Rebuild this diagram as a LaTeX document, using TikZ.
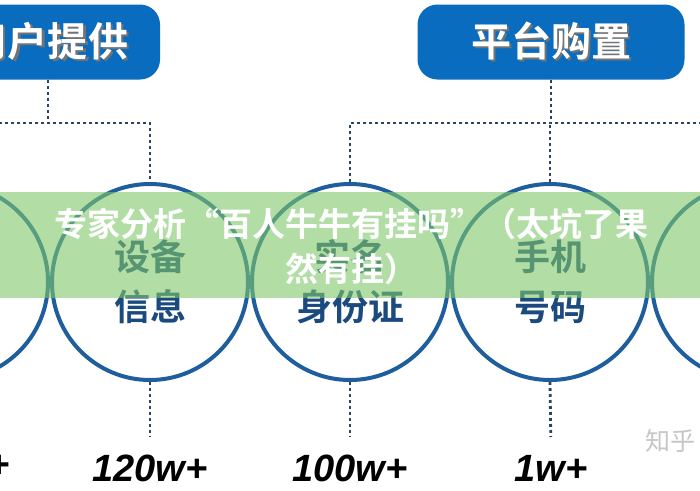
\documentclass[tikz,border=0pt]{standalone}
\usepackage{fontspec}
\usetikzlibrary{positioning}
\newfontfamily\cjk{Noto Sans CJK SC}[BoldFont={Noto Sans CJK SC Bold}]
\newfontfamily\numfont{Liberation Sans}
\definecolor{fblue}{HTML}{0A6CBE}
\definecolor{fring}{HTML}{1F5E9C}
\definecolor{fnavy}{HTML}{1B4A7E}
\definecolor{fdot}{HTML}{2A4560}
\definecolor{fband}{RGB}{127,200,107}
\newcommand{\shtext}[1]{{\color{black!55}\rlap{\kern2pt\raisebox{-2pt}{#1}}}#1}

\begin{document}
\begin{tikzpicture}[x=1pt, y=-1pt,
  topbox/.style={fill=fblue, text=white, rounded corners=20pt, minimum height=75pt,
    inner sep=0pt, font=\cjk\bfseries\fontsize{40}{40}\selectfont},
  ring/.style={circle, draw=fring, line width=4pt, minimum size=196pt, inner sep=0pt,
    text=fnavy, align=center, font=\cjk\bfseries\fontsize{36}{50}\selectfont},
  dotline/.style={fdot, line width=2.8pt, dash pattern=on 2.8pt off 3.2pt},
  val/.style={font=\numfont\bfseries\itshape\fontsize{38}{38}\selectfont, inner sep=0pt, anchor=north}]
\useasboundingbox (0,0) rectangle (700,490);
\clip (0,0) rectangle (700,490);
\fill[white] (0,0) rectangle (700,490);
% ---------- top: the two sources ----------
\node[topbox, minimum width=224pt] (user) at (48,42) {\shtext{用户提供}};
\node[topbox, minimum width=267pt] (plat) at (551,42) {\shtext{平台购置}};
% ---------- middle: the five kinds of data ----------
\node[ring] (c1) at (-50,282) {};
\node[ring] (c2) at (150,282) {设备\\信息};
\node[ring] (c3) at (350,282) {实名\\身份证};
\node[ring] (c4) at (550,282) {手机\\号码};
\node[ring] (c5) at (750,282) {};
% ---------- dotted wiring ----------
\coordinate (lbus) at (48,123);
\coordinate (rbus) at (551,123);
\draw[dotline] (user.south) -- (lbus);
\draw[dotline] (c1.north) -- (c1.north |- lbus) -- (c2.north |- lbus) -- (c2.north);
\draw[dotline] (plat.south) -- (rbus);
\draw[dotline] (c3.north) -- (c3.north |- rbus) -- (c5.north |- rbus) -- (c5.north);
\draw[dotline] (c4.north) -- (c4.north |- rbus);
% ---------- bottom: amounts ----------
\node[val, anchor=north east] (v1) at (10,455) {+};
\foreach \i/\x/\lb in {2/150/120w+, 3/350/100w+, 4/551/1w+}{
  \node[val] (v\i) at (\x,455) {\lb};
  \draw[dotline, shorten >=18pt] (c\i.south) -- (v\i.north);
}
\node[gray!45, font=\cjk\fontsize{25}{25}\selectfont, anchor=west, inner sep=0pt] (zh) at (645,441) {知乎};
% ---------- overlay band with title ----------
\fill[fband, opacity=0.6] (0,192) rectangle (700,298);
\node[text=white, align=center, font=\cjk\bfseries\fontsize{33}{45}\selectfont] (title) at (351,246)
  {专家分析“百人牛牛有挂吗”（太坑了果\\然有挂）};
\end{tikzpicture}
\end{document}
